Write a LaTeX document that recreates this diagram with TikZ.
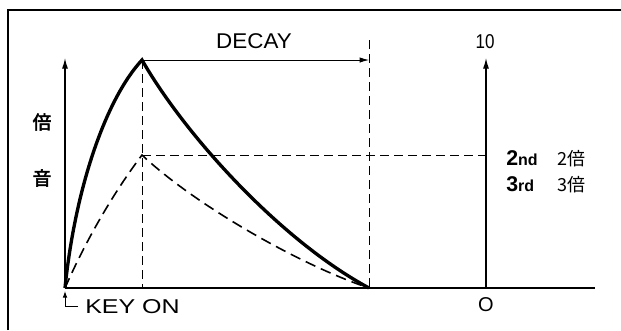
\documentclass[tikz,border=0pt]{standalone}
\usepackage{fontspec}
\setmainfont{Liberation Sans}
\newfontfamily\cjk{Noto Sans CJK JP}
\newfontfamily\cjkb[FakeBold=2.5]{Noto Sans CJK JP}
\usetikzlibrary{arrows.meta}
\begin{document}
\begin{tikzpicture}[x=0.75pt,y=-0.75pt,
  axis/.style={line width=0.9pt},
  axisarrow/.style={axis,-{Latex[length=8pt,width=4.5pt]}},
  guide/.style={line width=0.7pt, dash pattern=on 7pt off 3.5pt},
  env/.style={line width=2.5pt},
  envdash/.style={line width=1.2pt, dash pattern=on 8pt off 4.5pt},
  lbl/.style={inner sep=0pt, font=\fontsize{15}{15}\selectfont},
  kanji/.style={inner sep=0pt, font=\cjkb\fontsize{14}{14}\selectfont},
  harm/.style={inner sep=0pt, anchor=west},
]
\useasboundingbox (0,0) rectangle (621,330);
% frame
\coordinate (FB) at (8,330);
\coordinate (FC) at (8,10);
\coordinate (FR) at (621,10);
\draw[line width=1.1pt] (FB) -- (FC) -- (FR);

% key points
\coordinate (O) at (65,288);
\coordinate (Ltop) at (65,58);
\coordinate (P1) at (142,60);
\coordinate (P2) at (142,155);
\coordinate (P1b) at (142,288);
\coordinate (E) at (369,288);
\coordinate (Etop) at (369,40);
\coordinate (D) at (369,60);
\coordinate (R0) at (486,288);
\coordinate (Rtop) at (486,58);
\coordinate (Rmid) at (486,155);
\coordinate (Bend) at (595,288);

% axes
\draw[axisarrow] (O) -- (Ltop);
\draw[axis] (O) -- (Bend);
\draw[axisarrow] (R0) -- (Rtop);

% guides
\draw[guide] (P1) -- (P1b);
\draw[guide] (Etop) -- (E);
\draw[guide] (P2) -- (Rmid);

% decay arrow
\draw[line width=0.6pt, -{Latex[length=7pt,width=4pt]}] (P1) -- (D);

% envelopes
\draw[env] (O) .. controls (75,190) and (105,100) .. (P1)
                .. controls (185,135) and (280,240) .. (E);
\draw[envdash] (O) .. controls (86,240) and (114,192) .. (P2)
                .. controls (195,205) and (300,265) .. (E);

% labels
\node[lbl, font=\fontsize{16}{16}\selectfont] (decay) at (254,41) {\scalebox{1.05}[1]{DECAY}};
\node[lbl] (ten) at (485,42) {\scalebox{0.85}[1]{10}};
\node[lbl] (zero) at (486,305) {O};

% key on marker
\coordinate (K1) at (78,306);
\coordinate (K0) at (65,306);
\coordinate (Ktip) at (65,291);
\draw[line width=0.7pt, -{Latex[length=5pt,width=3.5pt]}] (K1) -- (K0) -- (Ktip);
\node[lbl, anchor=west] (keyon) at (85,306.5) {\scalebox{1.25}[1]{KEY ON}};

% vertical label
\node[kanji] (bai) at (42,122) {倍};
\node[kanji] (on) at (42,178) {音};

% harmonics
\node[harm] (h2) at (506,158.5) {\bfseries\fontsize{16}{16}\selectfont 2\fontsize{12}{12}\selectfont nd};
\node[harm] (h2b) at (557,158.5) {\cjk\fontsize{13.5}{13.5}\selectfont 2倍};
\node[harm] (h3) at (506,184.5) {\bfseries\fontsize{16}{16}\selectfont 3\fontsize{12}{12}\selectfont rd};
\node[harm] (h3b) at (557,184.5) {\cjk\fontsize{13.5}{13.5}\selectfont 3倍};
\end{tikzpicture}
\end{document}
